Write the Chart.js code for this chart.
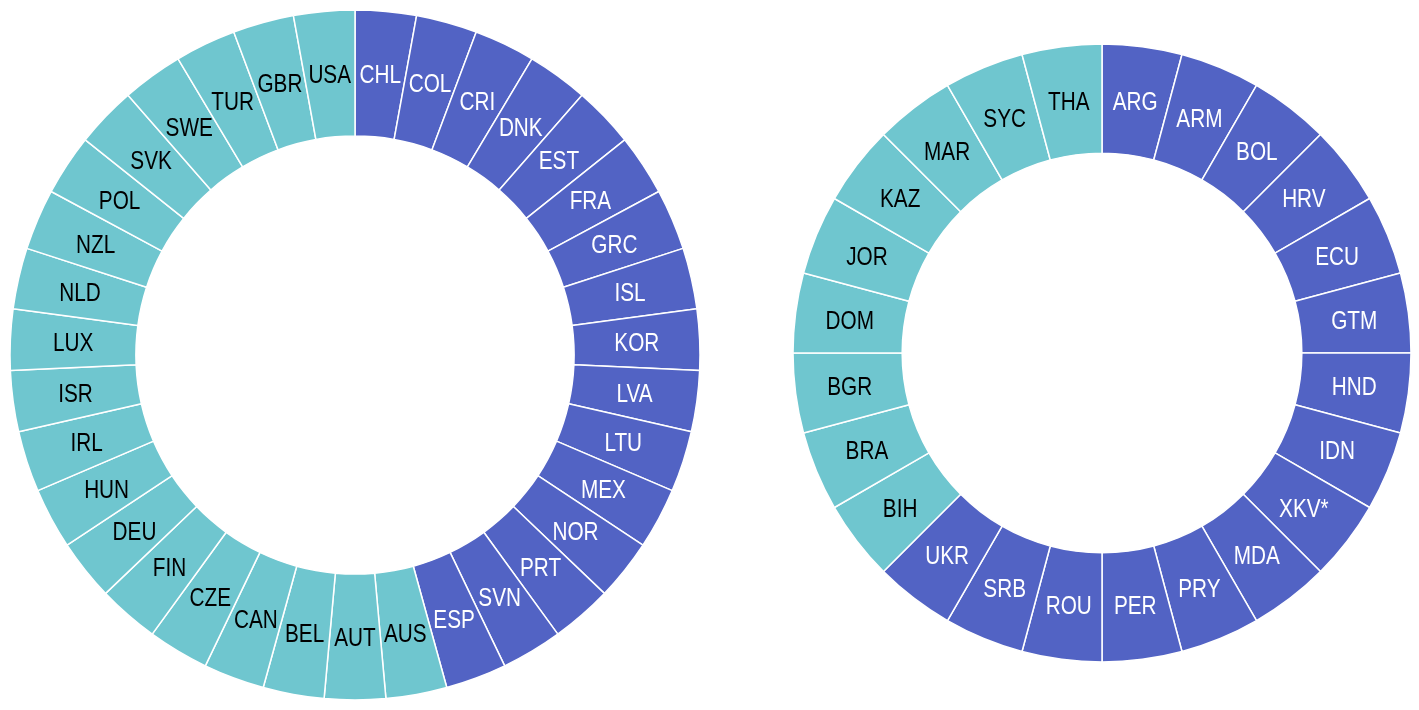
<!DOCTYPE html>
<html>
<head>
<meta charset="utf-8">
<script src="https://cdn.jsdelivr.net/npm/chart.js@4.4.0/dist/chart.umd.min.js"></script>
<style>
html,body{margin:0;padding:0;background:#fff;overflow:hidden;width:1419px;height:710px;}
.box{position:absolute;}
</style>
</head>
<body>
<div class="box" style="left:0px;top:0px;width:710px;height:710px;"><canvas id="c1"></canvas></div>
<div class="box" style="left:792px;top:43px;width:620px;height:620px;"><canvas id="c2"></canvas></div>
<script>
// Left ring: categories clockwise from top
const leftLabels = ['CHL','COL','CRI','DNK','EST','FRA','GRC','ISL','KOR','LVA','LTU','MEX','NOR','PRT','SVN','ESP',
  'AUS','AUT','BEL','CAN','CZE','FIN','DEU','HUN','IRL','ISR','LUX','NLD','NZL','POL','SVK','SWE','TUR','GBR','USA'];
const leftGroups = ['A','A','A','A','A','A','A','A','A','A','A','A','A','A','A','A',
  'B','B','B','B','B','B','B','B','B','B','B','B','B','B','B','B','B','B','B'];
const leftValues = [1,1,1,1,1,1,1,1,1,1,1,1,1,1,1,1,1,1,1,1,1,1,1,1,1,1,1,1,1,1,1,1,1,1,1];

// Right ring
const rightLabels = ['ARG','ARM','BOL','HRV','ECU','GTM','HND','IDN','XKV*','MDA','PRY','PER','ROU','SRB','UKR',
  'BIH','BRA','BGR','DOM','JOR','KAZ','MAR','SYC','THA'];
const rightGroups = ['A','A','A','A','A','A','A','A','A','A','A','A','A','A','A',
  'B','B','B','B','B','B','B','B','B'];
const rightValues = [1,1,1,1,1,1,1,1,1,1,1,1,1,1,1,1,1,1,1,1,1,1,1,1];

const groupFill = {A:'#5263C4', B:'#6FC6CF'};
const groupText = {A:'#ffffff', B:'#000000'};

const labelPlugin = {
  id:'ringLabels',
  afterDatasetsDraw(chart){
    const ctx = chart.ctx;
    const meta = chart.getDatasetMeta(0);
    const groups = chart.data.datasets[0].groups;
    ctx.save();
    ctx.font = '25px "Liberation Sans", Arial, sans-serif';
    ctx.textAlign = 'center';
    ctx.textBaseline = 'alphabetic';
    meta.data.forEach((arc,i)=>{
      const p = arc.getProps(['x','y','startAngle','endAngle','innerRadius','outerRadius'],true);
      const a = (p.startAngle+p.endAngle)/2;
      const r = (p.innerRadius+p.outerRadius)/2;
      const x = p.x + Math.cos(a)*r;
      const y = p.y + Math.sin(a)*r;
      ctx.save();
      ctx.translate(x,y);
      ctx.scale(0.83,1);
      ctx.fillStyle = groupText[groups[i]];
      ctx.fillText(chart.data.labels[i],0,9);
      ctx.restore();
    });
    ctx.restore();
  }
};

function makeRing(id, labels, values, groups, radius, cutout){
  new Chart(document.getElementById(id),{
    type:'doughnut',
    data:{labels:labels, datasets:[{data:values, groups:groups,
      backgroundColor:groups.map(g=>groupFill[g]), borderColor:'#ffffff', borderWidth:1.5, borderAlign:'center'}]},
    options:{responsive:true, maintainAspectRatio:false, animation:false,
      radius:radius, cutout:cutout,
      layout:{padding:0},
      plugins:{legend:{display:false}, tooltip:{enabled:false}}},
    plugins:[labelPlugin]
  });
}
makeRing('c1', leftLabels, leftValues, leftGroups, 345, 225);
makeRing('c2', rightLabels, rightValues, rightGroups, 309, 200);
</script>
</body>
</html>
